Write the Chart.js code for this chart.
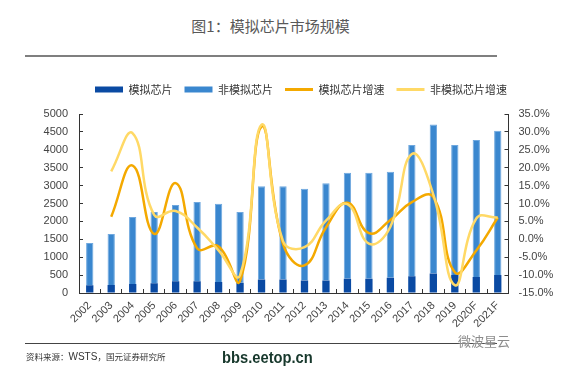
<!DOCTYPE html>
<html>
<head>
<meta charset="utf-8">
<script src="https://cdn.jsdelivr.net/npm/chart.js@4.4.1/dist/chart.umd.min.js"></script>
<style>
  body { margin: 0; width: 584px; height: 372px; background: #fff; position: relative; overflow: hidden; }
  #title { position: absolute; left: 0; top: 15px; width: 541px; line-height: 20px; text-align: center;
           font: 15px 'Noto Sans CJK SC', sans-serif; color: #595959; }
  #rule { position: absolute; left: 25px; top: 55px; width: 472px; height: 2px; background: #7f7f7f; }
  #wrap { position: absolute; left: 0; top: 70px; width: 584px; height: 290px; }
  #foot { position: absolute; left: 25px; top: 343px; width: 472px; height: 1px; background: #444; }
  #src { position: absolute; left: 26px; top: 350px; line-height: 12px; font: 8.5px 'Noto Sans CJK SC', sans-serif; color: #333; }
  #src b { font: 10px 'Liberation Sans', Arial, sans-serif; }
  #site { position: absolute; left: 222px; top: 349px; line-height: 18px; font: bold 16px 'Liberation Sans Narrow', 'Liberation Sans', sans-serif;
          color: #17382c; transform: scaleX(0.92); transform-origin: left; }
  #mark { position: absolute; left: 458px; top: 331px; font: 13px 'Noto Sans CJK SC', sans-serif; color: #8c8c8c;
          text-shadow: 0 0 2px #fff; }
</style>
</head>
<body>
<div id="title">图1：模拟芯片市场规模</div>
<div id="rule"></div>
<div id="wrap"><canvas id="chart" width="584" height="290"></canvas></div>
<div id="foot"></div>
<div id="src">资料来源：<b>WSTS</b>，国元证券研究所</div>
<div id="site">bbs.eetop.cn</div>
<div id="mark">微波星云</div>
<script>
const years = ['2002', '2003', '2004', '2005', '2006', '2007', '2008', '2009', '2010', '2011',
               '2012', '2013', '2014', '2015', '2016', '2017', '2018', '2019', '2020F', '2021F'];

// 模拟芯片 / 非模拟芯片 (left axis)
const analog = [215, 220, 250, 275, 330, 330, 305, 285, 380, 380,
                350, 350, 395, 395, 425, 470, 545, 505, 450, 500];
const nonAnalog = [1185, 1430, 1870, 1990, 2130, 2210, 2185, 1980, 2605, 2605,
                   2560, 2715, 2965, 2965, 2965, 3665, 4160, 3630, 3825, 4030];

// growth, % (right axis)
const analogGrowth = [null, 6.3, 20.6, 1.5, 15.7, -2.5, -2.0, -11.6, 31.5, -1.3,
                      -7.3, 3.3, 10.2, 1.7, 5.4, 10.4, 11.8, -9.2, -3.1, 6.1];
const nonAnalogGrowth = [null, 19.0, 29.6, 6.8, 7.9, 3.3, -3.1, -10.0, 32.0, -0.5,
                         -2.2, 5.2, 9.8, -1.2, 3.5, 23.8, 12.5, -12.8, 5.8, 6.1];

const tickFont = { family: "'Liberation Sans', Arial, sans-serif", size: 11 };
const axisColor = '#333';
const labelColor = '#444';

const legendGap = {
    id: 'legendGap',
    beforeInit(chart) {
        const fit = chart.legend.fit;
        chart.legend.fit = function () {
            fit.call(this);
            this.height += 9;
        };
    }
};

new Chart(document.getElementById('chart'), {
    type: 'bar',
    data: {
        labels: years,
        datasets: [
            {
                label: '模拟芯片',
                data: analog,
                backgroundColor: '#0a4aa3',
                borderWidth: 0,
                barPercentage: 0.34,
                categoryPercentage: 1,
                order: 2
            },
            {
                label: '非模拟芯片',
                data: nonAnalog,
                backgroundColor: '#3a87cf',
                borderColor: '#6fa8df',
                borderWidth: { top: 1, left: 1, right: 1, bottom: 0 },
                barPercentage: 0.34,
                categoryPercentage: 1,
                order: 3
            },
            {
                type: 'line',
                label: '模拟芯片增速',
                data: analogGrowth,
                yAxisID: 'y1',
                borderColor: '#f4a900',
                backgroundColor: '#f4a900',
                borderWidth: 2.5,
                pointRadius: 0,
                tension: 0.45,
                order: 1
            },
            {
                type: 'line',
                label: '非模拟芯片增速',
                data: nonAnalogGrowth,
                yAxisID: 'y1',
                borderColor: '#ffd966',
                backgroundColor: '#ffd966',
                borderWidth: 2.5,
                pointRadius: 0,
                tension: 0.45,
                order: 0
            }
        ]
    },
    options: {
        responsive: false,
        animation: false,
        devicePixelRatio: 1,
        layout: { padding: { top: 2, left: 18, right: 0, bottom: 0 } },
        plugins: {
            tooltip: { enabled: false },
            legend: {
                position: 'top',
                labels: {
                    usePointStyle: true,
                    pointStyleWidth: 28,
                    boxHeight: 6,
                    padding: 12,
                    color: '#333',
                    font: { family: "'Noto Sans CJK SC', sans-serif", size: 11 },
                    sort: (a, b) => a.datasetIndex - b.datasetIndex,
                    generateLabels(chart) {
                        return Chart.defaults.plugins.legend.labels.generateLabels(chart).map(item => {
                            const isLine = item.datasetIndex > 1;
                            item.pointStyle = isLine ? 'line' : 'rect';
                            item.lineWidth = isLine ? 3 : 0;
                            return item;
                        });
                    }
                }
            }
        },
        scales: {
            x: {
                stacked: true,
                grid: { drawOnChartArea: false, tickLength: -4, color: axisColor, offset: true },
                border: { color: axisColor },
                ticks: { autoSkip: false, minRotation: 45, maxRotation: 45, padding: 10, color: labelColor, font: tickFont },
                afterFit(scale) { scale.height = 67; }
            },
            y: {
                position: 'left',
                stacked: true,
                min: 0,
                max: 5000,
                grid: { drawOnChartArea: false, tickLength: -4, color: axisColor },
                border: { color: axisColor },
                ticks: { stepSize: 500, padding: 15, color: labelColor, font: tickFont, callback: v => String(v) },
                afterFit(scale) { scale.width = 61; }
            },
            y1: {
                position: 'right',
                min: -15,
                max: 35,
                grid: { drawOnChartArea: false, tickLength: -4, color: axisColor },
                border: { color: axisColor },
                ticks: {
                    stepSize: 5,
                    padding: 14,
                    color: labelColor,
                    font: tickFont,
                    callback: v => v.toFixed(1) + '%'
                },
                afterFit(scale) { scale.width = 75.5; }
            }
        }
    },
    plugins: [legendGap]
});
</script>
</body>
</html>
